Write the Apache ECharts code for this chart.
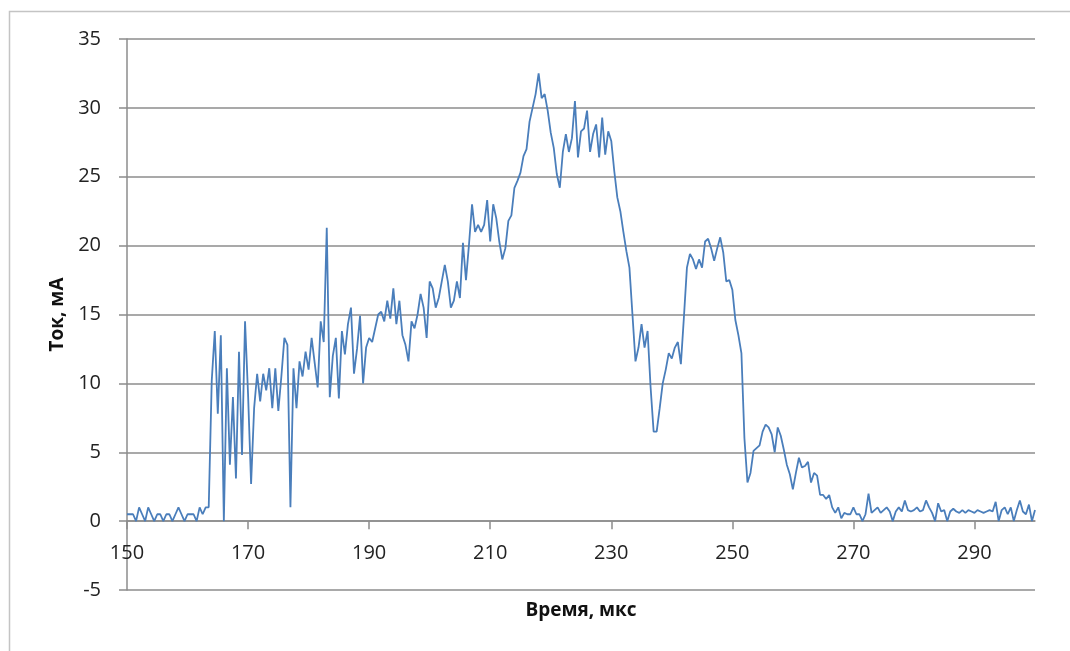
<!DOCTYPE html>
<html>
<head>
<meta charset="utf-8">
<title>Ток, мА</title>
<script src="https://cdn.jsdelivr.net/npm/echarts@6/dist/echarts.min.js"></script>
<style>
  html, body { margin: 0; padding: 0; background: #ffffff; }
  #chart { width: 1070px; height: 651px; }
</style>
</head>
<body>
<div id="chart"></div>
<script>
// Current trace sampled every 0.5 µs from 150 µs to 300 µs (one row = 5 µs).
const startTime = 150;
const stepTime = 0.5;
const current = [
  0.5, 0.5, 0.5, 0.0, 1.0, 0.5, 0.0, 1.0, 0.5, 0.0,        // 150
  0.5, 0.5, 0.0, 0.5, 0.5, 0.0, 0.5, 1.0, 0.5, 0.0,        // 155
  0.5, 0.5, 0.5, 0.0, 1.0, 0.5, 1.0, 1.0, 10.2, 13.8,      // 160
  7.8, 13.5, 0.0, 11.1, 4.1, 9.0, 3.1, 12.3, 4.8, 14.5,    // 165
  9.2, 2.7, 8.2, 10.7, 8.7, 10.7, 9.5, 11.1, 8.2, 11.1,    // 170
  8.0, 10.5, 13.3, 12.8, 1.0, 11.1, 8.2, 11.6, 10.5, 12.3, // 175
  11.0, 13.3, 11.5, 9.7, 14.5, 13.0, 21.3, 9.0, 12.0, 13.3,// 180
  8.9, 13.8, 12.1, 14.3, 15.5, 10.7, 12.5, 14.9, 10.0, 12.6,// 185
  13.3, 13.0, 14.0, 15.0, 15.2, 14.5, 16.0, 14.7, 16.9, 14.3,// 190
  16.0, 13.5, 12.8, 11.6, 14.5, 14.0, 15.0, 16.5, 15.5, 13.3,// 195
  17.4, 16.9, 15.5, 16.2, 17.4, 18.6, 17.4, 15.5, 16.0, 17.4,// 200
  16.2, 20.2, 17.5, 20.1, 23.0, 21.0, 21.5, 21.0, 21.5, 23.3,// 205
  20.3, 23.0, 22.0, 20.3, 19.0, 19.8, 21.8, 22.2, 24.2, 24.7,// 210
  25.3, 26.5, 27.0, 29.0, 30.0, 31.0, 32.5, 30.7, 31.0, 29.8,// 215
  28.2, 27.1, 25.2, 24.2, 26.8, 28.1, 26.8, 27.8, 30.5, 26.4,// 220
  28.3, 28.5, 29.8, 26.8, 28.1, 28.8, 26.4, 29.3, 26.6, 28.3,// 225
  27.6, 25.4, 23.5, 22.5, 21.0, 19.6, 18.4, 15.0, 11.6, 12.6,// 230
  14.3, 12.6, 13.8, 9.7, 6.5, 6.5, 8.2, 10.0, 11.0, 12.2,  // 235
  11.8, 12.6, 13.0, 11.4, 14.8, 18.4, 19.4, 19.0, 18.3, 19.0,// 240
  18.4, 20.3, 20.5, 19.8, 18.9, 19.8, 20.6, 19.5, 17.4, 17.5,// 245
  16.8, 14.6, 13.5, 12.2, 6.0, 2.8, 3.5, 5.1, 5.3, 5.5,    // 250
  6.5, 7.0, 6.8, 6.3, 5.0, 6.8, 6.2, 5.2, 4.1, 3.4,        // 255
  2.3, 3.5, 4.6, 3.9, 4.0, 4.3, 2.8, 3.5, 3.3, 1.9,        // 260
  1.9, 1.6, 1.9, 1.0, 0.6, 1.0, 0.2, 0.6, 0.5, 0.5,        // 265
  1.0, 0.5, 0.5, 0.0, 0.5, 2.0, 0.6, 0.8, 1.0, 0.6,        // 270
  0.8, 1.0, 0.7, 0.0, 0.7, 1.0, 0.7, 1.5, 0.8, 0.7,        // 275
  0.8, 1.0, 0.7, 0.8, 1.5, 1.0, 0.6, 0.0, 1.3, 0.7,        // 280
  0.8, 0.0, 0.7, 0.9, 0.7, 0.6, 0.8, 0.6, 0.8, 0.7,        // 285
  0.6, 0.8, 0.7, 0.6, 0.7, 0.8, 0.7, 1.4, 0.0, 0.8,        // 290
  1.0, 0.5, 1.0, 0.0, 0.8, 1.5, 0.7, 0.5, 1.2, 0.0,        // 295
  0.8                                                      // 300
];

const xTickValues = [150, 170, 190, 210, 230, 250, 270, 290];
const xTitle = 'Время, мкс';
const yTitle = 'Ток, мА';

const yMin = -5;
const yMax = 35;

const points = current.map((v, i) => [startTime + i * stepTime, v]);

const font = "'Open Sans', 'Liberation Sans', sans-serif";
const axisGray = '#8C8C8C';
const textColor = '#222222';

const gridTop = 39;
const gridBottom = 61;
const plotHeight = 651 - gridTop - gridBottom;
// the time axis crosses the current axis at 0 mA, so lift it from the bottom edge
const zeroLift = -plotHeight * (0 - yMin) / (yMax - yMin);

const chart = echarts.init(document.getElementById('chart'), null, { renderer: 'canvas' });

chart.setOption({
  animation: false,
  backgroundColor: '#ffffff',
  graphic: [{
    type: 'rect',
    silent: true,
    shape: { x: 9.5, y: 11.5, width: 1100, height: 700 },
    style: { fill: 'none', stroke: '#C4C4C4', lineWidth: 1.5 }
  }],
  grid: { left: 127, right: 35, top: gridTop, bottom: gridBottom,
          containLabel: false, outerBoundsMode: 'none' },
  xAxis: {
    type: 'value',
    min: 150,
    max: 300,
    interval: 20,
    position: 'bottom',
    offset: zeroLift,
    axisLine: { show: true, onZero: false, lineStyle: { color: axisGray, width: 1.5 } },
    axisTick: { show: true, inside: false, length: 8, customValues: xTickValues,
                lineStyle: { color: axisGray, width: 1.5 } },
    axisLabel: { customValues: xTickValues, margin: 22, fontSize: 20,
                 color: textColor, fontFamily: font },
    splitLine: { show: false },
    name: xTitle,
    nameLocation: 'middle',
    nameGap: 80,
    nameTextStyle: { fontSize: 19, fontWeight: 'bold', color: '#111', fontFamily: font }
  },
  yAxis: {
    type: 'value',
    min: yMin,
    max: yMax,
    interval: 5,
    axisLine: { show: true, onZero: false, lineStyle: { color: axisGray, width: 1.5 } },
    axisTick: { show: true, inside: false, length: 8, lineStyle: { color: axisGray, width: 1.5 } },
    axisLabel: { margin: 26, fontSize: 20, color: textColor, fontFamily: font },
    splitLine: { show: true, lineStyle: { color: axisGray, width: 1.5 } },
    name: yTitle,
    nameLocation: 'middle',
    nameGap: 60,
    nameRotate: 90,
    nameTextStyle: { fontSize: 19, fontWeight: 'bold', color: '#111', fontFamily: font }
  },
  series: [{
    type: 'line',
    data: points,
    symbol: 'none',
    showSymbol: false,
    lineStyle: { color: '#4A7EBB', width: 1.8 },
    z: 3
  }]
});
</script>
</body>
</html>
